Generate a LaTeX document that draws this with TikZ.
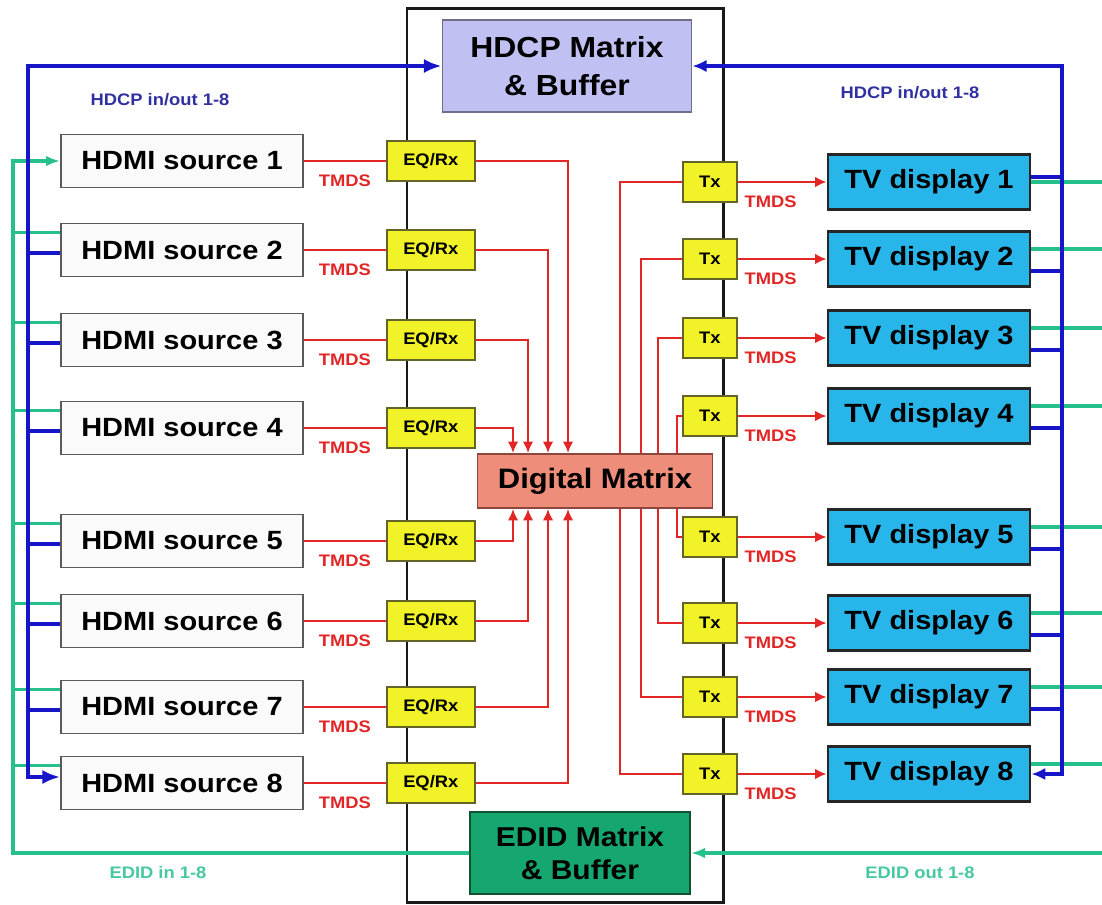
\documentclass[tikz,border=0pt]{standalone}
\usepackage{fontspec}
\setmainfont{Liberation Sans}[FakeStretch=1.1]
\usetikzlibrary{arrows.meta,positioning}
\definecolor{tmdsred}{RGB}{226,38,38}
\definecolor{hdcpblue}{RGB}{22,22,200}
\definecolor{hdcptext}{RGB}{48,48,160}
\definecolor{edidgreen}{RGB}{38,192,140}
\definecolor{edidtext}{RGB}{70,200,160}
\definecolor{hdcpfill}{RGB}{192,192,242}
\definecolor{hdcpedge}{RGB}{110,110,140}
\definecolor{edidfill}{RGB}{22,166,112}
\definecolor{edidedge}{RGB}{20,80,50}
\definecolor{matrixfill}{RGB}{238,142,122}
\definecolor{matrixedge}{RGB}{140,70,60}
\definecolor{tvfill}{RGB}{40,182,234}
\definecolor{rxfill}{RGB}{242,242,40}
\definecolor{rxedge}{RGB}{100,100,40}
\definecolor{srcfill}{RGB}{250,250,250}
\definecolor{boxgray}{RGB}{90,90,90}

\begin{document}
\begin{tikzpicture}[x=0.02cm,y=-0.02cm,
    src/.style={draw=boxgray,fill=srcfill,line width=1.1pt,
                minimum width=4.84cm,minimum height=1.06cm,inner sep=0pt,
                font=\fontsize{15}{18}\selectfont\bfseries},
    tv/.style={src,draw=black!85,fill=tvfill,line width=1.6pt,
               minimum width=4.04cm,minimum height=1.1cm},
    rx/.style={draw=rxedge,fill=rxfill,line width=1pt,
               minimum width=1.76cm,minimum height=0.8cm,inner sep=0pt,
               font=\fontsize{9.5}{11}\selectfont\bfseries},
    tx/.style={rx,minimum width=1.08cm},
    mtx/.style={line width=1.1pt,align=center,inner sep=0pt,
                font=\fontsize{16}{21}\selectfont\bfseries},
    outerframe/.style={draw=black!90,line width=1.7pt},
    tmds/.style={tmdsred,line width=1.2pt},
    tarr/.style={tmds,-{Latex[length=6.5pt,width=6pt]}},
    lbl/.style={font=\fontsize{9.5}{11}\selectfont\bfseries,inner sep=0pt},
    tmdslbl/.style={lbl,text=tmdsred,below=7pt},
    hdcpline/.style={hdcpblue,line width=2.2pt},
    hdcpthin/.style={hdcpblue,line width=1.8pt},
    edidline/.style={edidgreen,line width=1.8pt}
  ]
    \useasboundingbox (0,0) rectangle (1102,904);
    \draw[outerframe] (407,8) rectangle (723,902);

    \node[mtx,draw=hdcpedge,fill=hdcpfill,minimum width=4.98cm,minimum height=1.84cm,
          font=\fontsize{16.5}{22}\selectfont\bfseries] (hdcp) at (567,66) {HDCP Matrix\\\& Buffer};
    \node[mtx,draw=matrixedge,fill=matrixfill,minimum width=4.7cm,minimum height=1.08cm]
      (dm) at (595,481) {Digital Matrix};
    \node[mtx,draw=edidedge,fill=edidfill,minimum width=4.4cm,minimum height=1.64cm,
          font=\fontsize{15.5}{19}\selectfont\bfseries] (edid) at (580,853) {EDID Matrix\\\& Buffer};

    % inputs
    \foreach \i/\y in {1/161,2/250,3/340,4/428,5/541,6/621,7/707,8/783}{
      \node[src] (src\i) at (182,\y) {HDMI source \i};
      \node[rx,right=1.64cm of src\i] (eq\i) {EQ/Rx};
      \draw[tmds] (src\i) -- (eq\i) node[tmdslbl,pos=0.5] {TMDS};
    }
    % outputs
    \foreach \i/\y in {1/182,2/259,3/338,4/416,5/537,6/623,7/697,8/774}{
      \node[tv] (tv\i) at (929,\y) {TV display \i};
      \node[tx,left=1.78cm of tv\i] (tx\i) {Tx};
      \draw[tarr] (tx\i) -- (tv\i) node[tmdslbl,pos=0.37] {TMDS};
    }

    \foreach \i/\dx in {1/-0.54,2/-0.94,3/-1.34,4/-1.64}
      \draw[tarr] (eq\i) -| ([xshift=\dx cm]dm.north);
    \foreach \i/\dx in {5/-1.64,6/-1.34,7/-0.94,8/-0.54}
      \draw[tarr] (eq\i) -| ([xshift=\dx cm]dm.south);
    \foreach \i/\dx in {1/0.5,2/0.92,3/1.26,4/1.64}
      \draw[tmds] ([xshift=\dx cm]dm.north) |- (tx\i);
    \foreach \i/\dx in {5/1.64,6/1.26,7/0.92,8/0.5}
      \draw[tmds] ([xshift=\dx cm]dm.south) |- (tx\i);

    % EDID and HDCP buses
    \coordinate (hdcpL) at (28,66);
    \coordinate (hdcpR) at (1062,66);
    \coordinate (edidL) at (13,853);
    \coordinate (edidR) at (1102,853);

    \draw[edidline,-{Latex[length=8pt,width=6pt]}] (edid) -| (edidL) |- (src1);
    \draw[edidline,-{Latex[length=8pt,width=6pt]}] (edidR) -- (edid);
    \foreach \i in {2,...,8}
      \draw[edidline] ([yshift=0.35cm]src\i.west) -- ([yshift=0.35cm]edidL |- src\i.west);
    \draw[edidline] (tv1.east) -- (edidR |- tv1.east);
    \foreach \i in {2,...,8}
      \draw[edidline] ([yshift=0.2cm]tv\i.east) -- ([yshift=0.2cm]edidR |- tv\i.east);

    \draw[hdcpline,{Latex[length=10pt,width=8pt]}-{Latex[length=10pt,width=8pt]}]
      ([yshift=0.12cm]src8.west) -| (hdcpL) -- (hdcp);
    \foreach \i in {2,...,7}
      \draw[hdcpline] ([yshift=-0.06cm]src\i.west) -- ([yshift=-0.06cm]hdcpL |- src\i.west);
    \draw[hdcpthin,{Latex[length=8pt,width=7pt]}-{Latex[length=8pt,width=7pt]}]
      (tv8) -| (hdcpR) -- (hdcp);
    \draw[hdcpthin] ([yshift=0.1cm]tv1.east) -- ([yshift=0.1cm]hdcpR |- tv1.east);
    \foreach \i in {2,...,7}
      \draw[hdcpthin] ([yshift=-0.24cm]tv\i.east) -- ([yshift=-0.24cm]hdcpR |- tv\i.east);

    \node[lbl,text=hdcptext] (hdcpinL) at (160,100) {HDCP in/out 1-8};
    \node[lbl,text=hdcptext] (hdcpinR) at (910,93) {HDCP in/out 1-8};
    \node[lbl,text=edidtext] (edidin) at (158,873) {EDID in 1-8};
    \node[lbl,text=edidtext] (edidout) at (920,873) {EDID out 1-8};
\end{tikzpicture}
\end{document}
